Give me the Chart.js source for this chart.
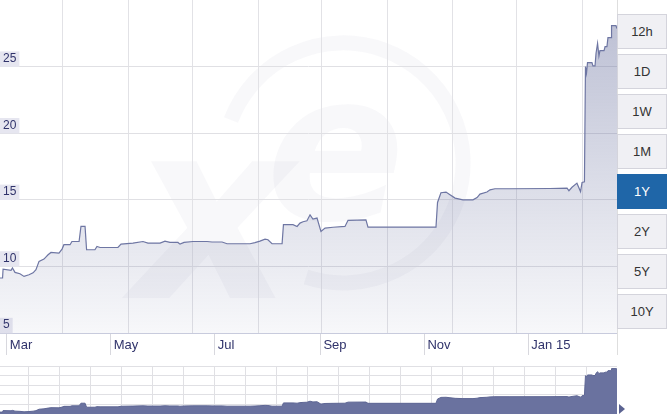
<!DOCTYPE html>
<html lang="en">
<head>
  <meta charset="UTF-8">
  <title>USD/UAH 1Y</title>
  <style>
    body {
      margin: 0;
      background: #fff;
      font-family: "Liberation Sans", Arial, sans-serif;
    }
    #wrap {
      position: relative;
      width: 669px;
      height: 416px;
      overflow: hidden;
    }
    #mark, #main, #nav {
      position: absolute;
      left: 0;
    }
    #mark { top: 0; }
    #main { top: 0; }
    #nav { top: 366px; }
    #edge {
      position: absolute;
      left: 617px;
      top: 0;
      width: 1px;
      height: 355px;
      background: #dedede;
    }
    .btn {
      position: absolute;
      left: 617px;
      width: 48px;
      height: 33px;
      border: 1px solid #d4d4dc;
      background: #f0f0f4;
      color: #333;
      font-size: 13px;
      line-height: 33px;
      text-align: center;
    }
    .btn.on {
      background: #1f66a8;
      border-color: #1f66a8;
      color: #fff;
    }
    #arrow {
      position: absolute;
      left: 619px;
      top: 404px;
      width: 0;
      height: 0;
      border-top: 5px solid transparent;
      border-bottom: 5px solid transparent;
      border-left: 6px solid #5b6391;
    }
  </style>
  <script src="https://cdn.jsdelivr.net/npm/chart.js"></script>
</head>
<body>
  <div id="wrap">
    <!-- faint xe watermark behind the plot -->
    <svg id="mark" width="617" height="333">
      <path d="M 231 120 A 120 120 0 1 1 306 277" fill="none" stroke="#5a5a8c" stroke-opacity="0.045" stroke-width="15"/>
      <g fill="#5a5a8c" fill-opacity="0.045" font-family="DejaVu Sans" font-weight="bold" font-style="italic">
        <text x="132" y="298" font-size="250">x</text>
        <text x="266" y="219" font-size="205">e</text>
      </g>
    </svg>
    <canvas id="main" width="617" height="360"></canvas>
    <canvas id="nav" width="617" height="48"></canvas>
    <div id="edge"></div>
    <div class="btn" style="top:14px">12h</div>
    <div class="btn" style="top:54px">1D</div>
    <div class="btn" style="top:94px">1W</div>
    <div class="btn" style="top:134px">1M</div>
    <div class="btn on" style="top:174px">1Y</div>
    <div class="btn" style="top:214px">2Y</div>
    <div class="btn" style="top:254px">5Y</div>
    <div class="btn" style="top:294px">10Y</div>
    <div id="arrow"></div>
  </div>

  <script>
    // days counted from 25 Feb 2014, rate
    const days = [0, 1.5, 1.8, 6.5, 7.3, 8.8, 11.7, 14.1, 17.0, 19.4,
      21.1, 22.9, 25.8, 28.2, 29.9, 34.6, 36.4, 37.5, 41.1, 42.2,
      46.4, 47.5, 49.9, 50.8, 55.7, 56.9, 58.7, 69.2, 71.0, 78.0,
      83.9, 86.8, 93.9, 96.8, 99.7, 104.4, 105.6, 108.0, 113.2, 121.5,
      124.4, 130.3, 133.2, 146.7, 149.6, 152.5, 155.5, 157.2, 159.6, 165.5,
      166.3, 171.9, 174.3, 176.0, 177.8, 180.1, 181.9, 183.6, 186.0, 188.3,
      190.7, 195.4, 202.4, 204.2, 214.7, 215.9, 255.8, 256.7, 258.7, 261.7,
      264.0, 267.0, 271.6, 277.5, 279.9, 281.6, 285.7, 287.5, 290.4, 299.2,
      322.7, 332.7, 333.8, 335.6, 338.5, 340.6, 341.5, 342.9, 343.5, 344.1,
      344.7, 347.3, 347.9, 349.1, 349.7, 350.6, 351.4, 352.0, 354.4, 355.0,
      356.1, 356.7, 358.5, 358.8, 361.4, 362.0];
    const rates = [9.13, 9.13, 9.79, 9.70, 9.88, 9.55, 9.45, 9.25, 9.37, 9.52,
      9.75, 10.38, 10.55, 10.87, 11.05, 11.00, 11.30, 11.63, 11.63, 11.87,
      11.87, 13.00, 13.00, 11.25, 11.25, 11.50, 11.42, 11.42, 11.67, 11.75,
      11.87, 11.75, 11.75, 11.89, 11.80, 11.80, 11.67, 11.80, 11.87, 11.87,
      11.83, 11.83, 11.70, 11.70, 11.78, 11.90, 12.05, 12.00, 11.70, 11.70,
      13.13, 13.13, 13.00, 13.25, 13.35, 13.42, 13.87, 13.55, 13.63, 12.62,
      12.88, 12.94, 13.00, 13.46, 13.50, 12.95, 12.95, 14.80, 15.53, 15.58,
      15.38, 15.13, 15.00, 15.00, 15.17, 15.43, 15.58, 15.75, 15.83, 15.83,
      15.85, 15.88, 15.68, 15.94, 16.25, 15.62, 16.30, 16.35, 25.00, 24.50,
      25.30, 25.30, 25.05, 25.05, 26.00, 26.75, 25.80, 26.20, 26.20, 26.50,
      26.50, 27.17, 27.17, 28.07, 28.07, 27.85];

    // month labels (1st of month) and tick values
    const labelDays = [4, 65, 126, 188, 249, 310];
    const labelNames = ['Mar', 'May', 'Jul', 'Sep', 'Nov', 'Jan 15'];
    const yTicks = [5, 10, 15, 20, 25];
    const gridDays = [36.4, 75.1, 113.2, 151.4, 188.9, 227.1, 265.2, 303.3, 341.5];
    const navGridDays = [16.7, 34.9, 53.1, 71.3, 89.5, 107.7, 125.9, 144.1, 162.3, 180.5,
      198.7, 216.9, 235.1, 253.3, 271.5, 289.7, 307.9, 326.1, 344.3];

    Chart.defaults.font.family = '"Liberation Sans", Arial, sans-serif';

    const points = days.map((d, i) => ({ x: d, y: rates[i] }));
    const setTicks = arr => s => { s.ticks = arr.map(v => ({ value: v })); };
    const fitX = h => s => { s.height = h; s.paddingLeft = 0; s.paddingRight = 0; };
    const fitY = s => { s.width = 0; s.paddingTop = 0; s.paddingBottom = 0; };

    new Chart(document.getElementById('main'), {
      type: 'line',
      data: {
        datasets: [{
          data: points,
          borderColor: '#6e76a3',
          borderWidth: 1.2,
          pointRadius: 0,
          tension: 0,
          fill: 'start',
          backgroundColor: (ctx) => {
            const area = ctx.chart.chartArea;
            if (!area) return 'rgba(100,108,155,0.2)';
            const g = ctx.chart.ctx.createLinearGradient(0, area.top, 0, area.bottom);
            g.addColorStop(0, 'rgba(100,108,155,0.45)');
            g.addColorStop(1, 'rgba(100,108,155,0.05)');
            return g;
          }
        }]
      },
      options: {
        responsive: false,
        animation: false,
        layout: { padding: 0 },
        plugins: { legend: { display: false }, tooltip: { enabled: false } },
        scales: {
          x: {
            type: 'linear',
            min: 0,
            max: 362,
            position: 'bottom',
            afterBuildTicks: setTicks(labelDays),
            afterFit: fitX(27),
            grid: { drawOnChartArea: false, drawTicks: true, tickLength: 22, color: '#d8d8de' },
            border: { color: '#c8cbdd' },
            ticks: {
              align: 'start',
              labelOffset: 3,
              padding: -17,
              autoSkip: false,
              maxRotation: 0,
              color: '#30336b',
              font: { size: 13 },
              callback: (v, i) => labelNames[i]
            }
          },
          xg: {
            type: 'linear',
            axis: 'x',
            min: 0,
            max: 362,
            position: 'bottom',
            afterBuildTicks: setTicks(gridDays),
            afterFit: fitX(0),
            grid: { drawTicks: false, color: '#e2e2e6' },
            border: { display: false },
            ticks: { display: false }
          },
          y: {
            min: 5,
            max: 30,
            position: 'left',
            afterBuildTicks: setTicks(yTicks),
            afterFit: fitY,
            grid: { drawTicks: false, color: '#e0e0e4' },
            border: { display: false },
            ticks: {
              mirror: true,
              padding: 3,
              labelOffset: -8,
              color: '#30336b',
              font: { size: 12 },
              showLabelBackdrop: true,
              backdropColor: '#e6e6f0',
              backdropPadding: { top: 0, bottom: 1, left: 3, right: 3 }
            }
          }
        }
      }
    });

    // navigator strip under the chart
    new Chart(document.getElementById('nav'), {
      type: 'line',
      data: {
        datasets: [{
          data: points,
          borderColor: '#5d6593',
          borderWidth: 1,
          pointRadius: 0,
          tension: 0,
          fill: 'start',
          backgroundColor: '#6a729f'
        }]
      },
      options: {
        responsive: false,
        animation: false,
        layout: { padding: 0 },
        plugins: { legend: { display: false }, tooltip: { enabled: false } },
        scales: {
          x: {
            type: 'linear',
            min: 0,
            max: 362,
            afterBuildTicks: setTicks(navGridDays),
            afterFit: fitX(0),
            grid: { drawTicks: false, color: '#e0e0e4' },
            border: { display: false },
            ticks: { display: false }
          },
          y: {
            min: 8.3,
            max: 29.2,
            afterFit: fitY,
            grid: { drawTicks: false, color: '#e0e0e4' },
            border: { display: false },
            ticks: { display: false, count: 6 }
          }
        }
      }
    });
  </script>
</body>
</html>
